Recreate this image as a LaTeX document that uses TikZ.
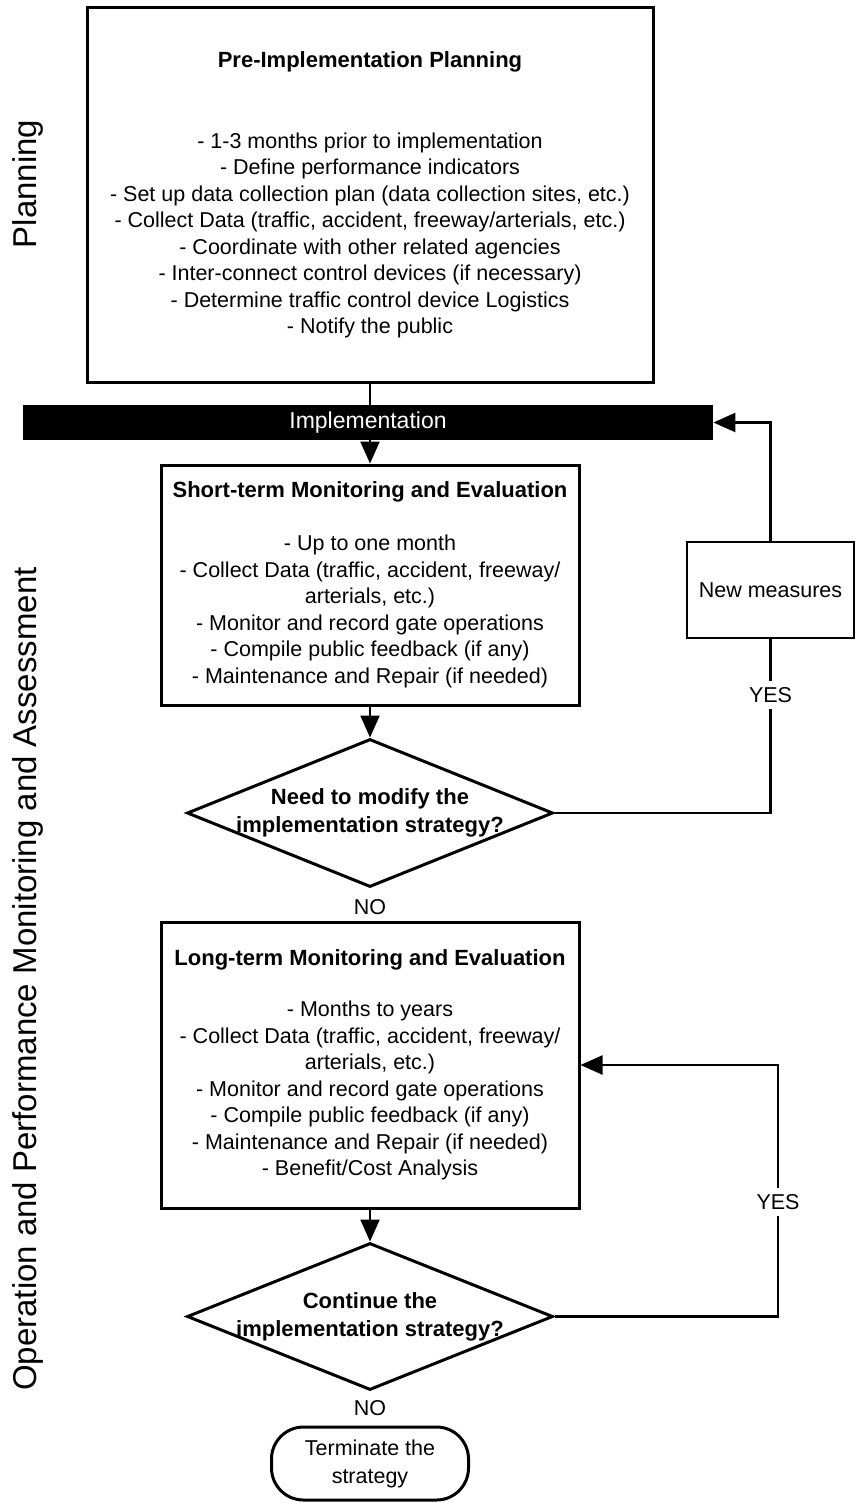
\documentclass[tikz,border=0pt]{standalone}
\usepackage{fontspec}
\setmainfont{Liberation Sans}
\usetikzlibrary{shapes.geometric,arrows.meta}

\begin{document}
\begin{tikzpicture}[x=0.5pt,y=-0.5pt,
    box/.style={draw,line width=1.5pt,inner sep=0,align=center,font=\textfontsize},
    flow/.style={line width=1.2pt,-{Triangle[length=11pt,width=9.5pt]}},
    link/.style={line width=1.2pt},
    answer/.style={inner sep=3pt,font=\textfontsize}]
    \providecommand{\sidefontsize}{\fontsize{16.5pt}{20pt}\selectfont}
    \providecommand{\textfontsize}{\fontsize{10.75pt}{13.25pt}\selectfont}
    \providecommand{\captionfontsize}{\fontsize{11pt}{14pt}\selectfont\bfseries}
    \providecommand{\barfontsize}{\fontsize{11.5pt}{14pt}\selectfont}
    \useasboundingbox (0,0) rectangle (856,1503);
    % phase labels
    \node[rotate=90,font=\sidefontsize] (planside) at (28,184) {Planning};
    \node[rotate=90,font=\sidefontsize] (operside) at (28,979) {Operation and Performance Monitoring and Assessment};
    % planning
    \node[box,minimum width=283pt,minimum height=187pt] (plan) at (370,195)
    {{\captionfontsize Pre-Implementation Planning}\\[27.25pt]
    - 1-3 months prior to implementation\\
    - Define performance indicators\\
    - Set up data collection plan (data collection sites, etc.)\\
    - Collect Data (traffic, accident, freeway/arterials, etc.)\\
    - Coordinate with other related agencies\\
    - Inter-connect control devices (if necessary)\\
    - Determine traffic control device Logistics\\
    - Notify the public};
    \node[fill=black,text=white,inner sep=0,minimum width=345pt,minimum height=17.5pt,font=\barfontsize] (impl) at (368,422.5) {Implementation};
    % short term
    \node[box,minimum width=209pt,minimum height=120pt] (shortbox) at (370,585)
    {{\captionfontsize Short-term Monitoring and Evaluation}\\[13.25pt]
    - Up to one month\\
    - Collect Data (traffic, accident, freeway/\\
    arterials, etc.)\\
    - Monitor and record gate operations\\
    - Compile public feedback (if any)\\
    - Maintenance and Repair (if needed)};
    \node[box,line width=1.2pt,minimum width=83.5pt,minimum height=48pt] (newm) at (770.5,590) {New measures};
    \node[draw,diamond,line width=1.5pt,inner sep=0,minimum width=183pt,minimum height=74pt] (modq) at (370,813) {};
    \node[align=center,font=\captionfontsize] (modtext) at (modq.center) {Need to modify the\\implementation strategy?};
    \node[answer] (yesa) at (770.5,695) {YES};
    \node[answer] (noa) at (370,907) {NO};
    % long term
    \node[box,minimum width=209pt,minimum height=143pt] (longbox) at (370,1065)
    {{\captionfontsize Long-term Monitoring and Evaluation}\\[12.25pt]
    - Months to years\\
    - Collect Data (traffic, accident, freeway/\\
    arterials, etc.)\\
    - Monitor and record gate operations\\
    - Compile public feedback (if any)\\
    - Maintenance and Repair (if needed)\\
    - Benefit/Cost Analysis};
    \node[draw,diamond,line width=1.5pt,inner sep=0,minimum width=183pt,minimum height=73.5pt] (contq) at (370,1316.5) {};
    \node[align=center,font=\captionfontsize] (conttext) at (contq.center) {Continue the\\implementation strategy?};
    \node[answer] (yesb) at (778,1202) {YES};
    \node[answer] (nob) at (370,1408) {NO};
    \node[box,rounded corners=16pt,minimum width=98.5pt,minimum height=36.5pt,font=\fontsize{10.75pt}{14pt}\selectfont] (term) at (370,1463.5) {Terminate the\\strategy};
    % connectors
    \draw[link] (plan.south) -- (plan.south |- impl.north);
    \draw[flow] (shortbox.north |- impl.south) -- (shortbox.north);
    \draw[flow] (shortbox.south) -- (modq.north);
    \draw[link] (modq.east) -| (yesa.south);
    \draw[link] (yesa.north) -- (newm.south);
    \draw[flow] (newm.north) |- (impl.east);
    \draw[flow] (longbox.south) -- (contq.north);
    \draw[link] (contq.east) -| (yesb.south);
    \draw[flow] (yesb.north) |- (longbox.east);
\end{tikzpicture}
\end{document}
